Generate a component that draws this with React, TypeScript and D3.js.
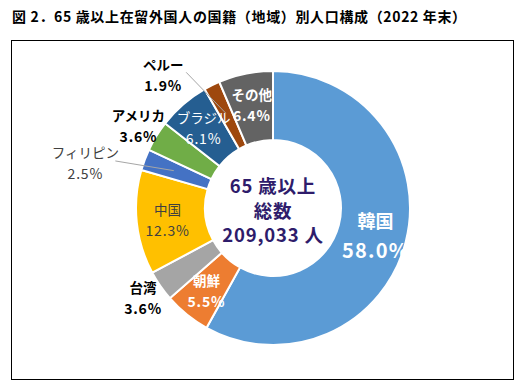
import React from 'react';
import * as d3 from 'd3';

// 国籍（地域）別の構成比（%）
const categories = ['韓国', '朝鮮', '台湾', '中国', 'フィリピン', 'アメリカ', 'ブラジル', 'ペルー', 'その他'];
const shares = [58.0, 5.5, 3.6, 12.3, 2.5, 3.6, 6.1, 1.9, 6.4];
const sliceColors = ['#5B9BD5', '#ED7D31', '#A5A5A5', '#FFC000', '#4472C4', '#70AD47', '#255E91', '#9E480E', '#636363'];

const title = '図 2．65 歳以上在留外国人の国籍（地域）別人口構成（2022 年末）';
const centerLines = ['65 歳以上', '総数', '209,033 人'];

// label placement: 'in' = on the ring, 'out' = beside it, 'call' = moved with leader line
type LabelStyle = { mode: 'in' | 'out' | 'call'; color: string; weight: number; angle?: number; radius?: number; lead?: number };
const labelStyles: LabelStyle[] = [
  { mode: 'in', color: '#fff', weight: 700 },
  { mode: 'in', color: '#fff', weight: 700 },
  { mode: 'out', color: '#000', weight: 700 },
  { mode: 'in', color: '#404040', weight: 400 },
  { mode: 'call', color: '#404040', weight: 400, angle: 283.5, radius: 193, lead: 30 },
  { mode: 'out', color: '#000', weight: 700 },
  { mode: 'in', color: '#fff', weight: 400 },
  { mode: 'call', color: '#000', weight: 700, angle: 320.6, radius: 173, lead: 23 },
  { mode: 'in', color: '#fff', weight: 700 },
];

const W = 521, H = 387;
const cx = 273, cy = 208;
const outerR = 137, innerR = 68;
const font = '"Noto Sans CJK JP", "Noto Sans", sans-serif';

const polar = (deg: number, r: number): [number, number] => {
  const a = (deg * Math.PI) / 180;
  return [Math.sin(a) * r, -Math.cos(a) * r];
};

export default function App() {
  const rows = categories.map((c, i) => ({ name: c, value: shares[i], i }));
  const pie = d3.pie<any>().value(d => d.value).sort(null);
  const arcs = pie(rows);
  const arc = d3.arc<any>().innerRadius(innerR).outerRadius(outerR);
  const labelArc = d3.arc<any>().innerRadius(106).outerRadius(106);

  return (
    <svg width={W} height={H} style={{ position: 'absolute', left: 0, top: 0, background: '#fff' }}>
      <text x={12} y={22} fontFamily={font} fontWeight={700} fontSize={14} letterSpacing={0.65} fill="#000">{title}</text>
      <rect x={11.5} y={40.5} width={502} height={339} fill="none" stroke="#000" strokeWidth={1} />
      <g transform={`translate(${cx},${cy})`}>
        {arcs.map(a => (
          <path key={a.data.name} d={arc(a) || ''} fill={sliceColors[a.data.i]} stroke="#fff" strokeWidth={2} />
        ))}
        {arcs.map(a => {
          const s = labelStyles[a.data.i];
          const mid = ((a.startAngle + a.endAngle) / 2) * 180 / Math.PI;
          let pos: [number, number];
          if (s.mode === 'in') pos = labelArc.centroid(a) as [number, number];
          else if (s.mode === 'out') pos = polar(mid, 158);
          else pos = polar(s.angle!, s.radius!);
          const big = a.data.i === 0;
          const gap = big ? 15 : 10.5;
          const c = labelArc.centroid(a);
          return (
            <g key={'l' + a.data.name}>
              {s.mode === 'call' && (
                <line x1={pos[0] + s.lead!} y1={pos[1] - 2} x2={c[0]} y2={c[1]} stroke="#A6A6A6" strokeWidth={1} />
              )}
              <text x={pos[0]} y={pos[1] - gap} textAnchor="middle" dominantBaseline="central"
                fontFamily={font} fontSize={big ? 18 : 13.5} fontWeight={s.weight} fill={s.color}>{a.data.name}</text>
              <text x={pos[0]} y={pos[1] + gap} textAnchor="middle" dominantBaseline="central" letterSpacing={big ? 1.2 : 0.8}
                fontFamily={font} fontSize={big ? 20 : 14} fontWeight={s.weight} fill={s.color}>{a.data.value.toFixed(1)}%</text>
            </g>
          );
        })}
        {centerLines.map((t, k) => (
          <text key={t} x={0} y={-23 + k * 24.5} textAnchor="middle" dominantBaseline="central" letterSpacing={0.8}
            fontFamily={font} fontSize={18.5} fontWeight={700} fill="#2E1C6B">{t}</text>
        ))}
      </g>
    </svg>
  );
}
